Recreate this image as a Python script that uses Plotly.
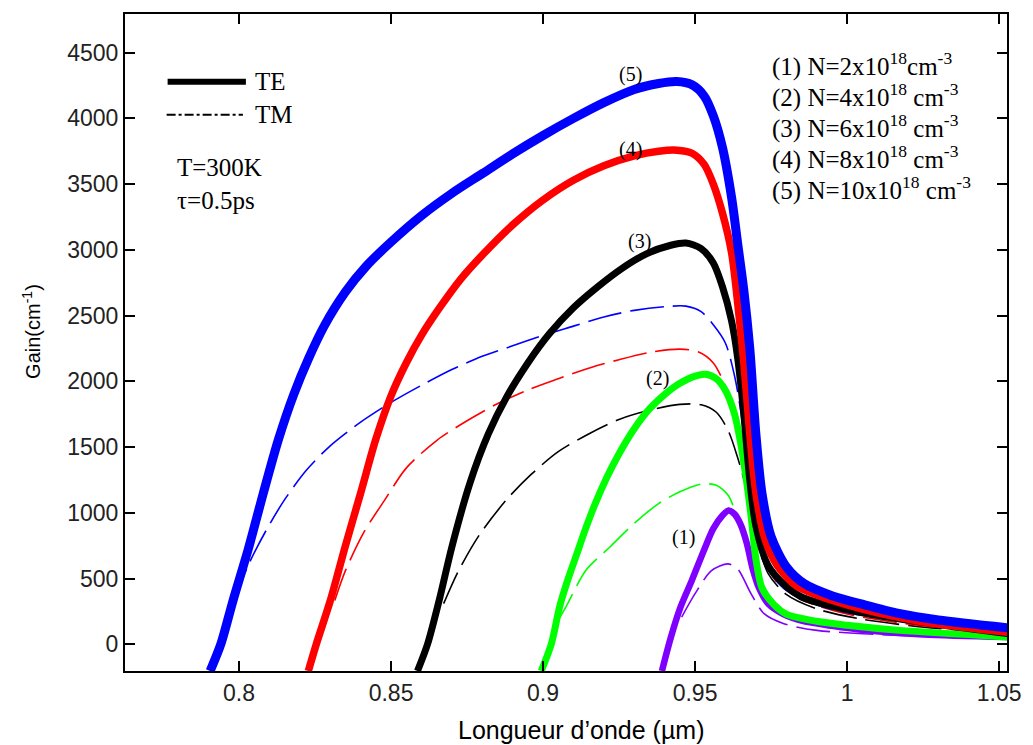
import plotly.graph_objects as go

# ---------------- data ----------------
labels = ["(1) N=2x10<sup>18</sup>cm<sup>-3</sup>",
          "(2) N=4x10<sup>18</sup> cm<sup>-3</sup>",
          "(3) N=6x10<sup>18</sup> cm<sup>-3</sup>",
          "(4) N=8x10<sup>18</sup> cm<sup>-3</sup>",
          "(5) N=10x10<sup>18</sup> cm<sup>-3</sup>"]
colors = ["#7F00FF", "#00FF00", "#000000", "#FF0000", "#0000FF"]

# TE curves (thick)
te1_x = [0.9391, 0.9420, 0.9450, 0.9490, 0.9530, 0.9560, 0.9590, 0.9610, 0.9630, 0.9650, 0.9670, 0.9690,
         0.9710, 0.9740, 0.9790, 0.9850, 0.9950, 1.0064, 1.025, 1.053]
te1_y = [-203, 50, 270, 490, 720, 880, 980, 1017, 990, 910, 770, 570,
         430, 310, 230, 180, 140, 106, 75, 55]

te2_x = [0.8994, 0.9027, 0.9055, 0.9080, 0.9110, 0.9140, 0.9170, 0.9210, 0.9250, 0.9300, 0.9350, 0.9400,
         0.9450, 0.9500, 0.9535, 0.9570, 0.9600, 0.9630, 0.9650, 0.9670, 0.9685, 0.9700, 0.9720, 0.9760,
         0.9800, 0.9900, 1.0000, 1.0173, 1.053]
te2_y = [-203, 0, 290, 480, 680, 880, 1060, 1270, 1450, 1640, 1790, 1900,
         1985, 2040, 2054, 2020, 1930, 1750, 1530, 1230, 960, 650, 430, 300,
         230, 175, 145, 106, 56]

te3_x = [0.8587, 0.8620, 0.8660, 0.8700, 0.8760, 0.8820, 0.8880, 0.8950, 0.9020, 0.9100, 0.9180, 0.9260,
         0.9340, 0.9420, 0.9470, 0.9520, 0.9560, 0.9590, 0.9620, 0.9640, 0.9660, 0.9680, 0.9700, 0.9740,
         0.9800, 0.9850, 0.9950, 1.0064, 1.030, 1.053]
te3_y = [-203, 0, 350, 740, 1230, 1600, 1880, 2140, 2360, 2560, 2720, 2860,
         2970, 3035, 3052, 3010, 2900, 2720, 2460, 2180, 1760, 1250, 900, 600,
         440, 360, 290, 233, 150, 81]

te4_x = [0.8228, 0.8254, 0.8300, 0.8350, 0.8400, 0.8450, 0.8500, 0.8550, 0.8600, 0.8660, 0.8730, 0.8800,
         0.8900, 0.9000, 0.9100, 0.9200, 0.9300, 0.9380, 0.9440, 0.9490, 0.9530, 0.9560, 0.9590, 0.9620,
         0.9640, 0.9660, 0.9680, 0.9700, 0.9730, 0.9770, 0.9830, 0.9900, 1.0000, 1.0100, 1.028, 1.053]
te4_y = [-203, 0, 330, 750, 1150, 1560, 1890, 2140, 2350, 2560, 2780, 2960,
         3190, 3380, 3530, 3640, 3715, 3750, 3758, 3735, 3650, 3500, 3280, 2980,
         2600, 2150, 1600, 1150, 800, 600, 450, 375, 300, 240, 160, 91]

te5_x = [0.7905, 0.7940, 0.7980, 0.8030, 0.8080, 0.8130, 0.8180, 0.8230, 0.8280, 0.8350, 0.8420, 0.8500,
         0.8600, 0.8700, 0.8800, 0.8900, 0.9000, 0.9100, 0.9200, 0.9300, 0.9380, 0.9440, 0.9490, 0.9530,
         0.9560, 0.9590, 0.9620, 0.9640, 0.9660, 0.9680, 0.9700, 0.9720, 0.9750, 0.9800, 0.9860, 0.9950,
         1.0050, 1.0170, 1.0300, 1.053]
te5_y = [-203, 0, 330, 720, 1150, 1560, 1900, 2180, 2420, 2680, 2880, 3060,
         3260, 3430, 3580, 3730, 3870, 4000, 4120, 4220, 4265, 4280, 4255, 4170,
         4020, 3780, 3400, 3050, 2700, 2250, 1600, 1150, 820, 590, 460, 370,
         305, 235, 185, 125]

# TM curves (thin, dashed)
tm1_x = [0.9456, 0.9500, 0.9554, 0.9608, 0.9640, 0.9684, 0.9727, 0.9792, 0.9901, 1.0172, 1.039, 1.053]
tm1_y = [207, 385, 561, 612, 574, 385, 233, 157, 106, 68, 55, 50]

tm2_x = [0.9043, 0.9075, 0.9140, 0.9220, 0.9300, 0.9380, 0.9450, 0.9520, 0.9570, 0.9610, 0.9640, 0.9670,
         0.9700, 0.9740, 0.9800, 0.9900, 1.0050, 1.0300, 1.053]
tm2_y = [157, 283, 560, 740, 920, 1070, 1160, 1219, 1210, 1130, 950, 740,
         480, 320, 220, 150, 100, 70, 60]

tm3_x = [0.8673, 0.8720, 0.8790, 0.8880, 0.8960, 0.9050, 0.9150, 0.9250, 0.9350, 0.9450, 0.9520, 0.9570,
         0.9610, 0.9640, 0.9670, 0.9700, 0.9740, 0.9800, 0.9900, 1.0050, 1.0300, 1.053]
tm3_y = [309, 550, 830, 1100, 1290, 1465, 1600, 1710, 1780, 1825, 1822, 1765,
         1620, 1420, 1170, 830, 540, 380, 270, 190, 120, 85]

tm4_x = [0.8315, 0.8350, 0.8410, 0.8480, 0.8550, 0.8650, 0.8750, 0.8850, 0.8950, 0.9050, 0.9150, 0.9250,
         0.9350, 0.9450, 0.9510, 0.9560, 0.9600, 0.9630, 0.9660, 0.9690, 0.9720, 0.9770, 0.9850, 1.0000,
         1.0250, 1.053]
tm4_y = [334, 560, 850, 1100, 1340, 1550, 1700, 1830, 1935, 2020, 2100, 2165,
         2220, 2245, 2225, 2140, 1960, 1720, 1400, 1000, 680, 470, 340, 230,
         140, 95]

tm5_x = [0.7984, 0.8030, 0.8090, 0.8150, 0.8220, 0.8300, 0.8400, 0.8500, 0.8600, 0.8700, 0.8800, 0.8900,
         0.9000, 0.9100, 0.9200, 0.9300, 0.9400, 0.9470, 0.9520, 0.9560, 0.9600, 0.9630, 0.9650, 0.9680,
         0.9710, 0.9750, 0.9800, 0.9900, 1.0000, 1.0250, 1.053]
tm5_y = [330, 600, 870, 1100, 1320, 1510, 1690, 1840, 1970, 2090, 2190, 2270,
         2350, 2420, 2490, 2540, 2568, 2572, 2530, 2430, 2290, 2040, 1780, 1250,
         800, 540, 410, 300, 240, 160, 105]

te_x = [te1_x, te2_x, te3_x, te4_x, te5_x]
te_y = [te1_y, te2_y, te3_y, te4_y, te5_y]
tm_x = [tm1_x, tm2_x, tm3_x, tm4_x, tm5_x]
tm_y = [tm1_y, tm2_y, tm3_y, tm4_y, tm5_y]
te_widths = [6.5, 7, 7, 7.5, 9]

curve_tags = ["(1)", "(2)", "(3)", "(4)", "(5)"]
tag_x = [0.9462, 0.9378, 0.9316, 0.9287, 0.9287]
tag_y = [812, 2018, 3065, 3763, 4332]

x_ticks = [0.8, 0.85, 0.9, 0.95, 1.0, 1.05]
x_tick_text = ["0.8", "0.85", "0.9", "0.95", "1", "1.05"]
y_ticks = [0, 500, 1000, 1500, 2000, 2500, 3000, 3500, 4000, 4500]

# ---------------- figure ----------------
fig = go.Figure()

for i in range(5):
    fig.add_trace(go.Scatter(x=tm_x[i], y=tm_y[i], mode="lines",
                             line=dict(color=colors[i], width=1.6, dash="34px,9px",
                                       shape="spline", smoothing=0.8),
                             showlegend=False, hoverinfo="skip"))
for i in range(5):
    fig.add_trace(go.Scatter(x=te_x[i], y=te_y[i], mode="lines",
                             line=dict(color=colors[i], width=te_widths[i],
                                       shape="spline", smoothing=0.8),
                             showlegend=False, hoverinfo="skip"))

serif = "Liberation Serif, Times New Roman, serif"
sans = "Liberation Sans, Arial, sans-serif"

ann = []
for t, xx, yy in zip(curve_tags, tag_x, tag_y):
    ann.append(dict(x=xx, y=yy, xref="x", yref="y", text=t, showarrow=False,
                    font=dict(family=serif, size=20, color="black"),
                    xanchor="center", yanchor="middle"))

# right-hand legend of concentrations
leg_y = [63, 94, 125, 156, 187]
for t, py in zip(labels, leg_y):
    ann.append(dict(x=(776 - 125) / 890, y=(671 - py) / 659, xref="paper", yref="paper",
                    text=t, showarrow=False, xanchor="left", yanchor="middle",
                    font=dict(family=serif, size=25, color="black")))

# TE/TM legend and condition text
ann.append(dict(x=(254 - 125) / 890, y=(671 - 80) / 659, xref="paper", yref="paper", text="TE",
                showarrow=False, xanchor="left", yanchor="middle",
                font=dict(family=serif, size=25, color="black")))
ann.append(dict(x=(254 - 125) / 890, y=(671 - 113) / 659, xref="paper", yref="paper", text="TM",
                showarrow=False, xanchor="left", yanchor="middle",
                font=dict(family=serif, size=25, color="black")))
ann.append(dict(x=(175 - 125) / 890, y=(671 - 166) / 659, xref="paper", yref="paper", text="T=300K",
                showarrow=False, xanchor="left", yanchor="middle",
                font=dict(family=serif, size=25, color="black")))
ann.append(dict(x=(175 - 125) / 890, y=(671 - 199) / 659, xref="paper", yref="paper", text="τ=0.5ps",
                showarrow=False, xanchor="left", yanchor="middle",
                font=dict(family=serif, size=25, color="black")))

# axis titles
ann.append(dict(x=(586 - 125) / 890, y=(671 - 730) / 659, xref="paper", yref="paper",
                text="Longueur d’onde (µm)", showarrow=False, xanchor="center", yanchor="middle",
                font=dict(family=sans, size=25, color="black")))
ann.append(dict(x=(30 - 125) / 890, y=(671 - 330) / 659, xref="paper", yref="paper",
                text="Gain(cm<sup>-1</sup>)", showarrow=False, xanchor="center", yanchor="middle",
                textangle=-90, font=dict(family=sans, size=20, color="black")))

shapes = [
    dict(type="line", xref="paper", yref="paper",
         x0=(168 - 125) / 890, x1=(247 - 125) / 890, y0=(671 - 80) / 659, y1=(671 - 80) / 659,
         line=dict(color="black", width=6)),
    dict(type="line", xref="paper", yref="paper",
         x0=(167 - 125) / 890, x1=(244 - 125) / 890, y0=(671 - 113) / 659, y1=(671 - 113) / 659,
         line=dict(color="black", width=2, dash="dashdot")),
]

axis_common = dict(showgrid=False, zeroline=False, showline=True, linecolor="black", linewidth=2,
                   mirror="ticks", ticks="inside", ticklen=10, tickwidth=1.5, tickcolor="black",
                   tickfont=dict(family=sans, size=23, color="#222222"))

fig.update_layout(
    width=1033, height=745,
    margin=dict(l=125, r=18, t=12, b=74),
    paper_bgcolor="white", plot_bgcolor="white",
    showlegend=False,
    xaxis=dict(range=[0.7625, 1.0526], tickvals=x_ticks, ticktext=x_tick_text, **axis_common),
    yaxis=dict(range=[-203, 4794], tickvals=y_ticks, **axis_common),
    annotations=ann, shapes=shapes,
)

fig.write_html("out.html")
